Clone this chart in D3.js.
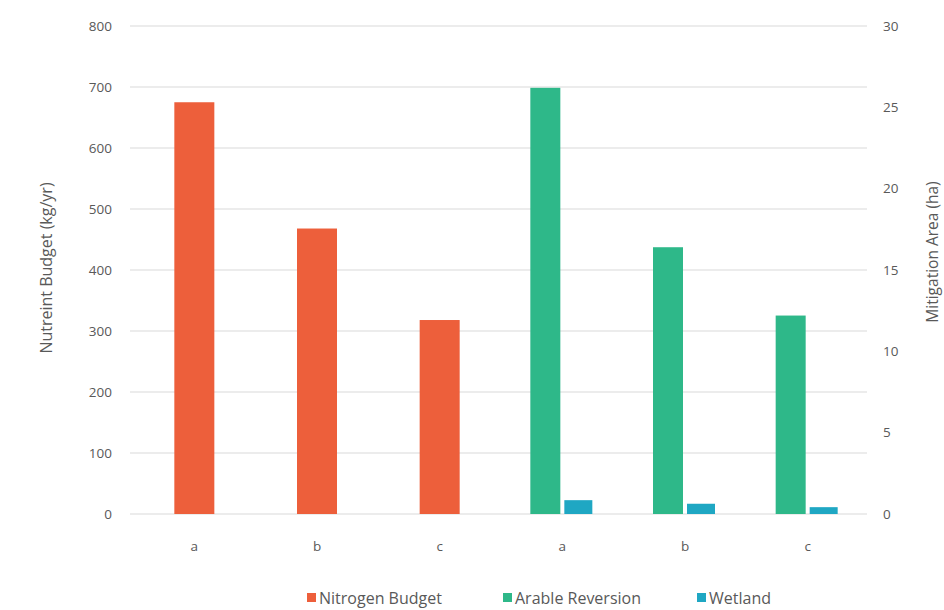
<!DOCTYPE html>
<html>
<head>
<meta charset="utf-8">
<script src="https://cdn.jsdelivr.net/npm/d3@7"></script>
<style>
  html, body { margin: 0; padding: 0; background: #ffffff; }
  svg { display: block; font-family: "Open Sans", "Noto Sans", sans-serif; }
</style>
</head>
<body>
<svg id="chart" width="944" height="610"></svg>
<script>
// Category slots along the x axis
const categories = ["a", "b", "c", "a", "b", "c"];
// Primary axis series (kg/yr) — first three slots
const nitrogenBudget = [675, 468, 318, null, null, null];
// Secondary axis series (ha) — last three slots
const arableReversion = [null, null, null, 26.2, 16.4, 12.2];
const wetland = [null, null, null, 0.85, 0.63, 0.42];
// Axis ticks
const leftTicks = [0, 100, 200, 300, 400, 500, 600, 700, 800];
const rightTicks = [0, 5, 10, 15, 20, 25, 30];

const colors = { nitrogen: "#ED5F3B", arable: "#2EB889", wetland: "#1FA7C3" };
const textColor = "#595959";

const svg = d3.select("#chart");
const plot = { left: 130, right: 867, top: 26, bottom: 514 };

const x = d3.scaleBand()
  .domain(d3.range(categories.length))
  .range([133, 869])
  .paddingInner(0).paddingOuter(0);

const yLeft = d3.scaleLinear().domain([0, 800]).range([plot.bottom, plot.top]);
const yRight = d3.scaleLinear().domain([0, 30]).range([plot.bottom, plot.top]);

// Gridlines
svg.append("g")
  .selectAll("line")
  .data(leftTicks)
  .join("line")
  .attr("x1", plot.left).attr("x2", plot.right)
  .attr("y1", d => yLeft(d)).attr("y2", d => yLeft(d))
  .attr("stroke", "#d9d9d9").attr("stroke-width", 1.2);

// Left axis
const leftAxis = svg.append("g")
  .attr("transform", `translate(${plot.left - 18},0)`)
  .call(d3.axisLeft(yLeft).tickValues(leftTicks).tickSize(0).tickPadding(0));
leftAxis.select(".domain").remove();
leftAxis.selectAll("text").attr("fill", textColor).attr("font-size", 13.5)
  .attr("font-family", "'Open Sans', sans-serif");

// Right axis
const rightAxis = svg.append("g")
  .attr("transform", `translate(${plot.right + 16},0)`)
  .call(d3.axisRight(yRight).tickValues(rightTicks).tickSize(0).tickPadding(0));
rightAxis.select(".domain").remove();
rightAxis.selectAll("text").attr("fill", textColor).attr("font-size", 13.5)
  .attr("font-family", "'Open Sans', sans-serif");

// Bottom category labels
const bottomAxis = svg.append("g")
  .attr("transform", `translate(0,${plot.bottom + 27})`)
  .call(d3.axisBottom(x).tickFormat(i => categories[i]).tickSize(0).tickPadding(0));
bottomAxis.select(".domain").remove();
bottomAxis.selectAll("text").attr("fill", textColor).attr("font-size", 13.5)
  .attr("font-family", "'Open Sans', sans-serif");

// Nitrogen bars (primary axis), centred in each slot
const nWidth = 40;
svg.append("g").selectAll("rect")
  .data(nitrogenBudget.map((v, i) => ({ v, i })).filter(d => d.v != null))
  .join("rect")
  .attr("x", d => x(d.i) + x.bandwidth() / 2 - nWidth / 2)
  .attr("width", nWidth)
  .attr("y", d => yLeft(d.v))
  .attr("height", d => yLeft(0) - yLeft(d.v))
  .attr("fill", colors.nitrogen);

// Secondary-axis pair: arable reversion and wetland side by side
const sWidth = 30, sGap = 4;
svg.append("g").selectAll("rect")
  .data(arableReversion.map((v, i) => ({ v, i })).filter(d => d.v != null))
  .join("rect")
  .attr("x", d => x(d.i) + x.bandwidth() / 2 - sGap / 2 - sWidth)
  .attr("width", sWidth)
  .attr("y", d => yRight(d.v))
  .attr("height", d => yRight(0) - yRight(d.v))
  .attr("fill", colors.arable);

svg.append("g").selectAll("rect")
  .data(wetland.map((v, i) => ({ v, i })).filter(d => d.v != null))
  .join("rect")
  .attr("x", d => x(d.i) + x.bandwidth() / 2 + sGap / 2)
  .attr("width", sWidth - 2)
  .attr("y", d => yRight(d.v))
  .attr("height", d => yRight(0) - yRight(d.v))
  .attr("fill", colors.wetland);

// Axis titles
svg.append("text")
  .attr("transform", `translate(52,268) rotate(-90)`)
  .attr("text-anchor", "middle")
  .attr("fill", textColor).attr("font-size", 16)
  .text("Nutreint Budget (kg/yr)");

svg.append("text")
  .attr("transform", `translate(938,252) rotate(-90)`)
  .attr("text-anchor", "middle")
  .attr("fill", textColor).attr("font-size", 15.5)
  .text("Mitigation Area (ha)");

// Legend
const legendItems = [
  { label: "Nitrogen Budget", color: colors.nitrogen, x: 307 },
  { label: "Arable Reversion", color: colors.arable, x: 503 },
  { label: "Wetland", color: colors.wetland, x: 697 }
];
const legend = svg.append("g").selectAll("g")
  .data(legendItems)
  .join("g")
  .attr("transform", d => `translate(${d.x},598)`);
legend.append("rect")
  .attr("x", 0).attr("y", -5).attr("width", 9).attr("height", 9)
  .attr("fill", d => d.color);
legend.append("text")
  .attr("x", 12).attr("y", 0).attr("dy", "0.35em")
  .attr("fill", textColor).attr("font-size", 16)
  .text(d => d.label);
</script>
</body>
</html>
